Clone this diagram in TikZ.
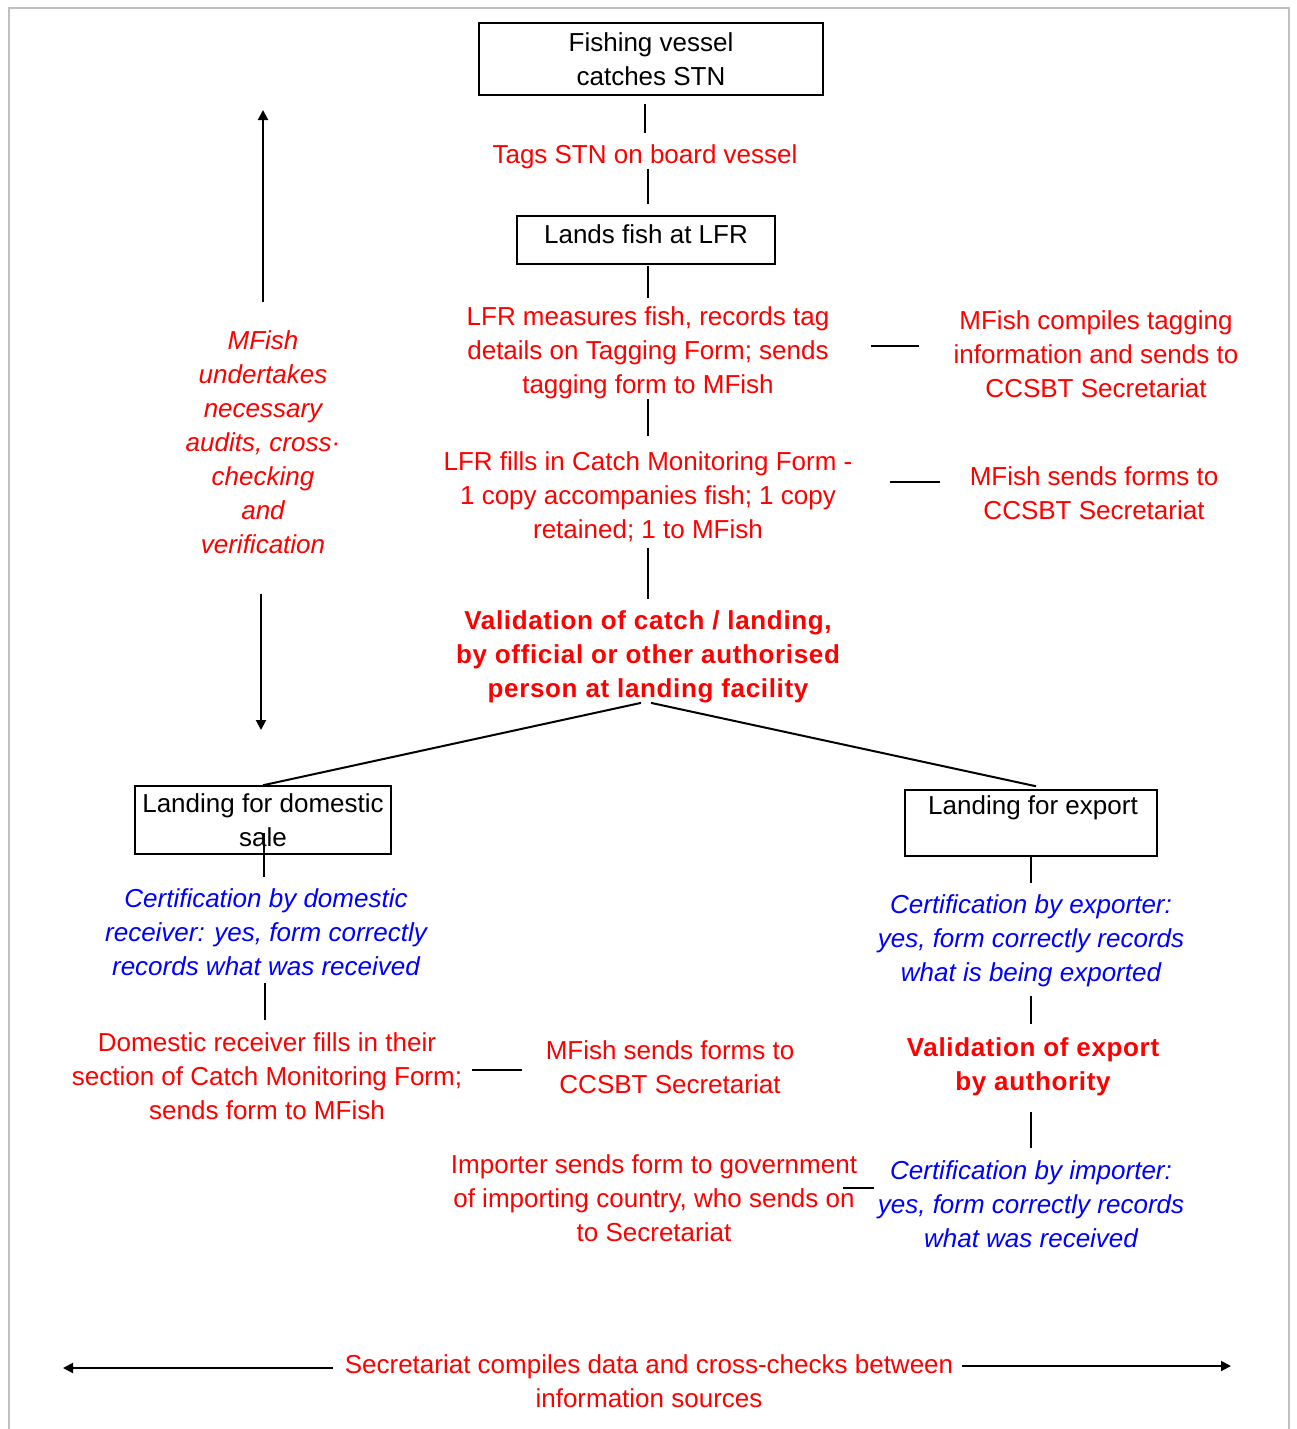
\documentclass[tikz,border=0pt]{standalone}
\usepackage{fontspec}
\setmainfont{Liberation Sans}
\newfontfamily\boldsp[LetterSpace=2.5]{Liberation Sans Bold}
\usetikzlibrary{calc,arrows.meta}
\definecolor{rd}{HTML}{FF0000}
\definecolor{bl}{HTML}{0000FF}
\definecolor{fr}{HTML}{C0C0C0}
\begin{document}
\begin{tikzpicture}[x=1pt,y=-1pt,
  base/.style={align=center,inner sep=0pt,font=\fontsize{26}{34}\selectfont},
  box/.style={base,draw=black,line width=1.5pt,inner sep=0pt},
  tx/.style={base,yshift=-2.5pt},
  rtxt/.style={tx,text=rd},
  rbold/.style={tx,text=rd,font=\fontsize{26}{34}\boldsp},
  rit/.style={tx,text=rd,font=\fontsize{26}{34}\selectfont\itshape},
  btxt/.style={tx,text=bl,font=\fontsize{26}{34}\selectfont\itshape},
  conn/.style={draw=black,line width=2pt},
  arr/.style={conn,-{Triangle[length=10pt,width=10pt]}}
]
\useasboundingbox (0,0) rectangle (1296,1429);
\draw[fr,line width=2.5pt] (9,1432) -- (9,8) -- (1289,8) -- (1289,1432);

% top chain
\node[box,minimum width=344pt,minimum height=72pt] (fish) at (651,59) {Fishing vessel\\catches STN};
\node[rtxt] (tags) at (645,154) {Tags STN on board vessel};
\node[box,minimum width=258pt,minimum height=48pt] (lands) at (646,240) {};
\node[base] (landsT) at (646,234) {Lands fish at LFR};
\node[rtxt] (lfr) at (648,350) {LFR measures fish, records tag\\details on Tagging Form; sends\\tagging form to MFish};
\node[rtxt] (mc) at (1096,352) {MFish compiles tagging\\information and sends to\\CCSBT Secretariat};
\node[rtxt] (cmf) at (648,494) {LFR fills in Catch Monitoring Form -\\1 copy accompanies fish; 1 copy\\retained; 1 to MFish};
\node[rtxt] (ms1) at (1094,491) {MFish sends forms to\\CCSBT Secretariat};
\node[rbold] (val) at (648,654) {Validation of catch / landing,\\by official or other authorised\\person at landing facility};

% left audit
\node[rit] (audit) at (263,440) {MFish\\undertakes\\necessary\\audits, cross·\\checking\\and\\verification};
\coordinate (auTop) at (263,110);
\coordinate (auBot) at (261,730);

% domestic branch
\node[box,minimum width=256pt,minimum height=68pt] (dom) at (263,820) {Landing for domestic\\sale};
\node[btxt] (certd) at (266,930) {Certification by domestic\\receiver: yes, form correctly\\records what was received};
\node[rtxt] (drf) at (267,1074) {Domestic receiver fills in their\\section of Catch Monitoring Form;\\sends form to MFish};
\node[rtxt] (ms2) at (670,1065) {MFish sends forms to\\CCSBT Secretariat};

% export branch
\node[box,minimum width=252pt,minimum height=66pt] (exp) at (1031,823) {};
\node[base] (expT) at (1033,808) {Landing for export};
\node[btxt] (certe) at (1031,938) {Certification by exporter:\\yes, form correctly records\\what is being exported};
\node[rbold] (vexp) at (1033,1064) {Validation of export\\by authority};
\node[btxt] (certi) at (1031,1202) {Certification by importer:\\yes, form correctly records\\what was received};
\node[rtxt] (imp) at (654,1196) {Importer sends form to government\\of importing country, who sends on\\to Secretariat};

% bottom
\node[rtxt] (sec) at (649,1379) {Secretariat compiles data and cross-checks between\\information sources};
\coordinate (secL) at (63,1368);
\coordinate (secR) at (1231,1366);

% connectors
\draw[conn] ($(fish.south)+(-6,8)$) -- ($(tags.north)+(0,-11)$);
\draw[conn] ($(tags.south)+(3,0)$) -- ($(lands.north)+(2,-11)$);
\draw[conn] ($(lands.south)+(2,1)$) -- ($(lfr.north)+(0,-8)$);
\draw[conn] ($(lfr.south)+(0,0)$) -- ($(cmf.north)+(0,-15)$);
\draw[conn] ($(cmf.south)+(0,6)$) -- ($(val.north)+(0,-11)$);
\draw[conn] ($(lfr.east)+(41,-6.5)$) -- ($(mc.west)+(-34,-8.5)$);
\draw[conn] ($(cmf.east)+(37,-14.5)$) -- ($(ms1.west)+(-30,-11.5)$);
\draw[conn] ($(val.south)+(-7,0)$) -- (dom.north);
\draw[conn] ($(val.south)+(3,0)$) -- ($(exp.north)+(5,-3)$);
\draw[conn] ($(dom.south)+(1,-22)$) -- ($(certd.north)+(-2,-12)$);
\draw[conn] ($(certd.south)+(-1,7)$) -- ($(drf.north)+(-2,-13)$);
\draw[conn] ($(drf.east)+(10,-6.5)$) -- ($(ms2.west)+(-24,2.5)$);
\draw[conn] ($(exp.south)+(0,-2)$) -- ($(certe.north)+(0,-11)$);
\draw[conn] ($(certe.south)+(0,9)$) -- ($(vexp.north)+(-2,-13)$);
\draw[conn] ($(vexp.south)+(-2,16)$) -- ($(certi.north)+(0,-13)$);
\draw[conn] ($(imp.east)+(-14,-10.5)$) -- ($(certi.west)+(-4,-16.5)$);
\draw[arr] ($(audit.north)+(0,-29)$) -- (auTop);
\draw[arr] ($(audit.south)+(-2,40)$) -- (auBot);
\draw[arr] ($(sec.west)+(-12,-13.5)$) -- (secL);
\draw[arr] ($(sec.east)+(9,-15.5)$) -- (secR);
\end{tikzpicture}
\end{document}
